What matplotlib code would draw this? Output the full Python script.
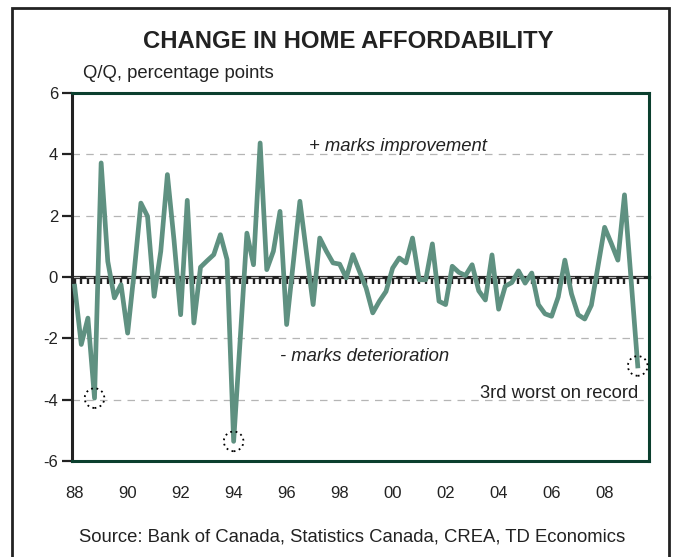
import matplotlib.pyplot as plt
from matplotlib.patches import Rectangle

plt.rcParams['font.family'] = ['Liberation Sans', 'DejaVu Sans']
plt.rcParams['axes.unicode_minus'] = False

# quarterly change in affordability, 1988Q1 onwards (percentage points)
change = [-0.30, -2.20, -1.34, -3.95, 3.72, 0.51, -0.68, -0.25,
          -1.83, 0.20, 2.41, 1.98, -0.63, 0.84, 3.34, 1.20,
          -1.23, 2.50, -1.50, 0.32, 0.53, 0.73, 1.38, 0.57,
          -5.36, -2.00, 1.43, 0.40, 4.37, 0.24, 0.84, 2.14,
          -1.55, 0.46, 2.47, 0.78, -0.90, 1.27, 0.84, 0.46,
          0.42, -0.03, 0.73, 0.18, -0.36, -1.17, -0.79, -0.47,
          0.29, 0.62, 0.46, 1.27, -0.09, -0.09, 1.08, -0.79,
          -0.90, 0.35, 0.15, 0.05, 0.40, -0.45, -0.75, 0.72,
          -1.05, -0.30, -0.18, 0.20, -0.20, 0.13, -0.90, -1.20,
          -1.28, -0.65, 0.55, -0.55, -1.23, -1.37, -0.92, 0.35,
          1.62, 1.10, 0.55, 2.68, -0.10, -2.90]
quarters = list(range(len(change)))

year_ticks = list(range(0, 81, 8))
year_labels = ['88', '90', '92', '94', '96', '98', '00', '02', '04', '06', '08']
y_ticks = [-6, -4, -2, 0, 2, 4, 6]

worst = [3, 24, 85]

line_col = '#5f9181'
border_col = '#0b3f2e'
text_col = '#222222'

fig = plt.figure(figsize=(6.8, 5.57), dpi=100)
ax = fig.add_axes([72/680, 1-461/557, (649-72)/680, (461-93)/557])

ax.grid(axis='y', linestyle=(0, (6, 5)), color='#b5b5b5', linewidth=0.9)
ax.set_axisbelow(True)

# zero line with quarterly tick marks
zero = ax.secondary_xaxis(0.5)
zero.set_xticks(quarters, labels=[])
zero.tick_params(direction='in', length=5, width=1.7, color=text_col)
for s in zero.spines.values():
    s.set_linewidth(2.3)
    s.set_color(text_col)

ax.plot(quarters, change, color=line_col, linewidth=3.4, zorder=3)
ax.scatter([quarters[i] for i in worst], [change[i] for i in worst], s=200,
           facecolors='none', edgecolors='k', linestyles=(0, (1, 2)),
           linewidths=1.3, zorder=4)

ax.set_xlim(-0.4, 86.7)
ax.set_ylim(-6, 6)
ax.set_yticks(y_ticks)
ax.set_xticks(year_ticks, year_labels)
ax.tick_params(axis='y', direction='out', length=7, width=1.6, color=text_col,
               labelsize=12, pad=3, labelcolor=text_col)
ax.tick_params(axis='x', length=0, labelsize=12, pad=18, labelcolor=text_col)

ax.spines['left'].set_color(text_col)
ax.spines['left'].set_linewidth(2.2)
for side in ['top', 'right', 'bottom']:
    ax.spines[side].set_color(border_col)
    ax.spines[side].set_linewidth(2.2)

ax.text(48.8, 4.24, '+ marks improvement', style='italic', fontsize=13.3,
        ha='center', va='center', color=text_col)
ax.text(43.8, -2.59, '- marks deterioration', style='italic', fontsize=13.3,
        ha='center', va='center', color=text_col)
ax.text(85.1, -3.79, '3rd worst on record', fontsize=13.2,
        ha='right', va='center', color=text_col)

fig.text(348/680, 1-41/557, 'CHANGE IN HOME AFFORDABILITY', fontsize=17.2,
         fontweight='bold', ha='center', va='center', color=text_col)
fig.text(83/680, 1-73/557, 'Q/Q, percentage points', fontsize=13.3,
         ha='left', va='center', color=text_col)
fig.text(352/680, 1-537/557, 'Source: Bank of Canada, Statistics Canada, CREA, TD Economics',
         fontsize=13.3, ha='center', va='center', color=text_col)

fig.patches.append(Rectangle((12/680, -0.1), (669-12)/680, 1-8/557+0.1,
                             transform=fig.transFigure, fill=False,
                             edgecolor=text_col, linewidth=2))

fig.savefig('out.png', dpi=100)
